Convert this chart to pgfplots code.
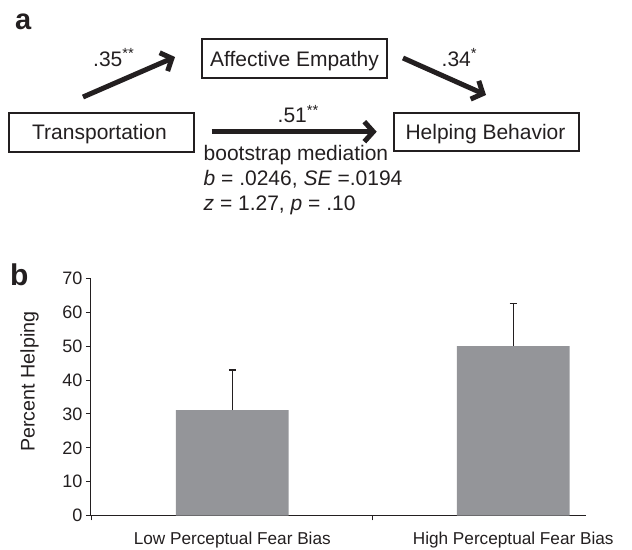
\documentclass[border=0pt]{standalone}
\usepackage{fontspec}
\setmainfont{Liberation Sans}
\usepackage{pgfplots}
\pgfplotsset{compat=1.18}
\usetikzlibrary{arrows.meta}
\definecolor{ink}{RGB}{35,31,32}
\definecolor{bargray}{RGB}{148,149,153}
\newcommand\fs[1]{\fontsize{#1}{#1}\selectfont}
\begin{document}
\begin{tikzpicture}[every node/.style={text=ink}]
\path[use as bounding box] (0,0) rectangle (632pt,-549pt);
% ---- panel a ----
\node[anchor=base west, inner sep=0pt, font=\fs{29}\bfseries] at (15pt,-29pt) {a};
\draw[line width=2pt, draw=ink] (202pt,-39.3pt) rectangle (386.7pt,-78.3pt);
\node[anchor=base, inner sep=0pt, font=\fs{21}] at (294.5pt,-66.7pt) {Affective Empathy};
\draw[line width=2pt, draw=ink] (9.3pt,-113pt) rectangle (194pt,-151.7pt);
\node[anchor=base, inner sep=0pt, font=\fs{21}] at (99.5pt,-139.5pt) {Transportation};
\draw[line width=2pt, draw=ink] (394pt,-113pt) rectangle (579pt,-150.7pt);
\node[anchor=base, inner sep=0pt, font=\fs{21}] at (485.5pt,-139.5pt) {Helping Behavior};
\draw[ink, line width=5pt, -{Straight Barb[length=9pt,width=20pt]}] (83pt,-97pt) -- (175pt,-57pt);
\draw[ink, line width=5pt, -{Straight Barb[length=9pt,width=20pt]}] (403pt,-58pt) -- (486pt,-95pt);
\draw[ink, line width=5pt, -{Straight Barb[length=9pt,width=20pt]}] (211.7pt,-131.7pt) -- (376.7pt,-131.7pt);
\node[anchor=base west, inner sep=0pt, font=\fs{21}] at (93pt,-66pt) {.35\textsuperscript{**}};
\node[anchor=base west, inner sep=0pt, font=\fs{21}] at (441.5pt,-66pt) {.34\textsuperscript{*}};
\node[anchor=base west, inner sep=0pt, font=\fs{21}] at (277.5pt,-122.7pt) {.51\textsuperscript{**}};
\node[anchor=base west, inner sep=0pt, font=\fs{21}] at (203.5pt,-160pt) {bootstrap mediation};
\node[anchor=base west, inner sep=0pt, font=\fs{21}] at (203.5pt,-185pt) {\textit{b} = .0246, \textit{SE} =.0194};
\node[anchor=base west, inner sep=0pt, font=\fs{21}] at (203.5pt,-210pt) {\textit{z} = 1.27, \textit{p} = .10};
% ---- panel b ----
\node[anchor=base west, inner sep=0pt, font=\fs{30}\bfseries] at (10pt,-285pt) {b};
\begin{axis}[
  at={(90.7pt,-515.6pt)}, anchor=south west,
  scale only axis, width=495.3pt, height=237.3pt,
  xmin=-0.504, xmax=1.259, ymin=0, ymax=70,
  axis x line=bottom, axis y line=left,
  axis line style={-, draw=ink, line width=1pt},
  ytick={0,10,...,70},
  xtick={-0.5,0.5}, xticklabels={},
  extra x ticks={0,1},
  extra x tick labels={Low Perceptual Fear Bias, High Perceptual Fear Bias},
  extra x tick style={major tick length=0pt,
     xticklabel style={font=\fs{17.2}, anchor=base, inner sep=0pt, yshift=-29pt}},
  tick align=outside, major tick length=4.7pt,
  tick style={draw=ink, line width=1pt},
  ticklabel style={font=\fs{18}, text=ink},
  /pgf/number format/assume math mode=true,
  ylabel={Percent Helping},
  ylabel style={font=\fs{19.7}, at={(axis description cs:-0.1236,0.5643)}, anchor=center},
]
\addplot[ybar, bar width=112.7pt, fill=bargray, draw=none,
  error bars/.cd, y dir=plus, y explicit,
  error bar style={draw=ink, line width=1.2pt},
  error mark options={rotate=90, mark size=3.5pt, line width=1.5pt, draw=ink}]
  coordinates {(0,31.1) +- (0,11.9) (1,50.0) +- (0,12.6)};
\end{axis}
\end{tikzpicture}
\end{document}
